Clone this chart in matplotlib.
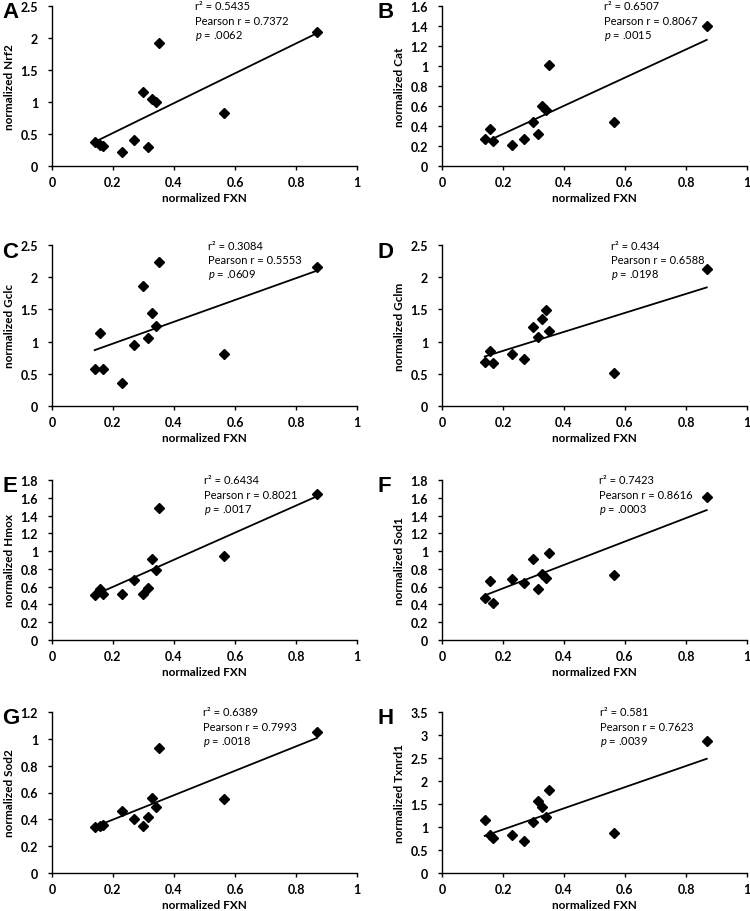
import numpy as np
import matplotlib
matplotlib.use("Agg")
import matplotlib.pyplot as plt
from matplotlib.ticker import MultipleLocator, FuncFormatter

plt.rcParams["font.family"] = ["Lato", "DejaVu Sans"]
plt.rcParams["mathtext.fontset"] = "custom"
plt.rcParams["mathtext.rm"] = "Lato"
plt.rcParams["mathtext.it"] = "Lato:italic"

# normalized FXN (shared x values)
fxn = [0.14, 0.158, 0.166, 0.229, 0.27, 0.299, 0.314, 0.329, 0.341, 0.352, 0.563, 0.868]

panels = ['A', 'B', 'C', 'D', 'E', 'F', 'G', 'H']
genes = ['Nrf2', 'Cat', 'Gclc', 'Gclm', 'Hmox', 'Sod1', 'Sod2', 'Txnrd1']

nrf2 = [0.37, 0.33, 0.31, 0.22, 0.41, 1.16, 0.30, 1.04, 1.00, 1.92, 0.83, 2.10]
cat = [0.27, 0.37, 0.25, 0.21, 0.27, 0.44, 0.32, 0.60, 0.56, 1.01, 0.44, 1.40]
gclc = [0.57, 1.13, 0.58, 0.35, 0.95, 1.87, 1.06, 1.44, 1.24, 2.23, 0.81, 2.16]
gclm = [0.69, 0.86, 0.66, 0.80, 0.73, 1.22, 1.07, 1.35, 1.49, 1.17, 0.51, 2.13]
hmox = [0.51, 0.57, 0.52, 0.52, 0.67, 0.52, 0.59, 0.91, 0.79, 1.48, 0.94, 1.64]
sod1 = [0.47, 0.66, 0.42, 0.69, 0.64, 0.91, 0.57, 0.74, 0.70, 0.98, 0.73, 1.61]
sod2 = [0.34, 0.35, 0.36, 0.46, 0.40, 0.35, 0.42, 0.56, 0.49, 0.93, 0.55, 1.05]
txnrd1 = [1.15, 0.83, 0.76, 0.82, 0.70, 1.10, 1.56, 1.43, 1.22, 1.80, 0.86, 2.87]
values = [nrf2, cat, gclc, gclm, hmox, sod1, sod2, txnrd1]

r2_list = ['0.5435', '0.6507', '0.3084', '0.434', '0.6434', '0.7423', '0.6389', '0.581']
pearson_list = ['0.7372', '0.8067', '0.5553', '0.6588', '0.8021', '0.8616', '0.7993', '0.7623']
p_list = ['.0062', '.0015', '.0609', '.0198', '.0017', '.0003', '.0018', '.0039']

ymax_list = [2.5, 1.6, 2.5, 2.5, 1.8, 1.8, 1.2, 3.5]
ystep_list = [0.5, 0.2, 0.5, 0.5, 0.2, 0.2, 0.2, 0.5]

# layout (pixels in a 750x912 figure)
W, H = 750., 912.
col_x = [(52, 357), (442, 747)]
row_y = [(7, 167), (246, 407), (481, 641), (713, 874)]
text_x = [0.47, 0.53, 0.51, 0.554, 0.50, 0.515, 0.495, 0.518]

fig = plt.figure(figsize=(7.5, 9.12), dpi=100)

def fmt(v, pos):
    return "%g" % round(v, 2)

for i in range(8):
    c = i % 2
    r = i // 2
    x0, x1 = col_x[c]
    y0, y1 = row_y[r]
    ax = fig.add_axes([x0 / W, 1 - y1 / H, (x1 - x0) / W, (y1 - y0) / H])

    x = np.array(fxn)
    y = np.array(values[i])
    ax.plot(x, y, linestyle='none', marker='D', markersize=5.5, color='black', clip_on=False)
    k, b = np.polyfit(x, y, 1)
    xl = np.array([x.min(), x.max()])
    ax.plot(xl, k * xl + b, color='black', linewidth=1.3)

    ax.set_xlim(0, 1)
    ax.set_ylim(0, ymax_list[i])
    ax.xaxis.set_major_locator(MultipleLocator(0.2))
    ax.yaxis.set_major_locator(MultipleLocator(ystep_list[i]))
    ax.xaxis.set_major_formatter(FuncFormatter(fmt))
    ax.yaxis.set_major_formatter(FuncFormatter(fmt))
    for s in ['top', 'right']:
        ax.spines[s].set_visible(False)
    for s in ['left', 'bottom']:
        ax.spines[s].set_linewidth(1.0)
    ax.tick_params(direction='out', length=3, width=1, labelsize=9)
    ax.tick_params(axis='x', pad=4)
    ax.tick_params(axis='y', pad=7)
    for lab in ax.get_xticklabels() + ax.get_yticklabels():
        lab.set_fontweight('bold')

    ax.set_xlabel('normalized FXN', fontsize=8.5, fontweight='bold', labelpad=3)
    ax.set_ylabel('normalized ' + genes[i], fontsize=8.5, fontweight='bold', labelpad=4)

    tx = text_x[i]
    ax.text(tx, 1.0, 'r² = ' + r2_list[i], transform=ax.transAxes, fontsize=8, va='center')
    ax.text(tx, 0.91, 'Pearson r = ' + pearson_list[i], transform=ax.transAxes, fontsize=8, va='center')
    ax.text(tx, 0.82, r'$\mathit{p}$ = ' + p_list[i], transform=ax.transAxes, fontsize=8, va='center')

    fig.text(2 / W if c == 0 else 377 / W, 1 - (y0 + 6) / H, panels[i],
             fontsize=16, fontweight='bold', family='Liberation Sans', va='center', ha='left')

fig.savefig('out.png', dpi=100)
